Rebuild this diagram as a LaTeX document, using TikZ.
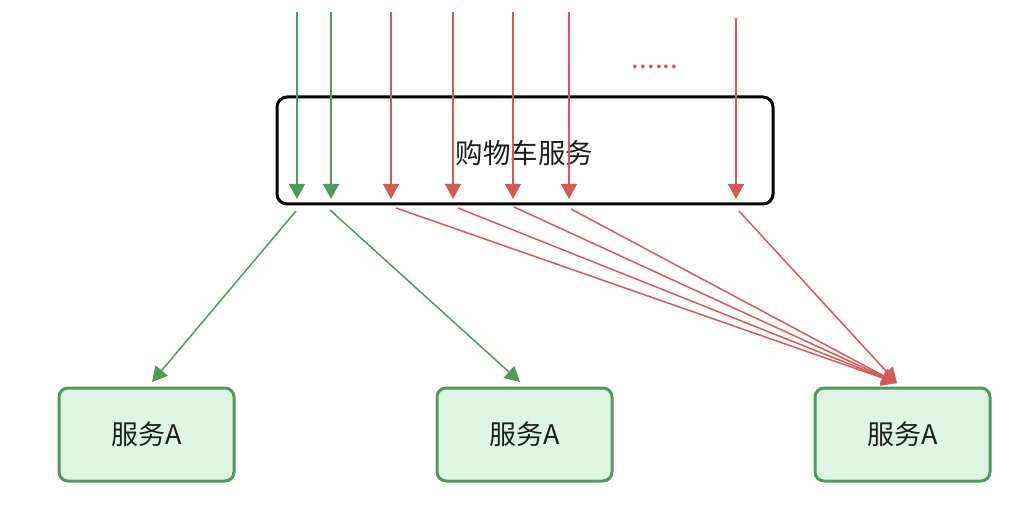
\documentclass[tikz,border=0pt]{standalone}
\usepackage{fontspec}
\setmainfont{Noto Sans CJK SC}
\usetikzlibrary{arrows.meta}
\definecolor{okgreen}{RGB}{80,154,96}
\definecolor{hotred}{RGB}{212,90,88}
\definecolor{svcfill}{RGB}{223,245,228}
\definecolor{inkgray}{RGB}{30,30,30}
\tikzset{
  cartbox/.style={draw=black, line width=3pt, rounded corners=10pt, minimum width=496pt, minimum height=107pt, inner sep=0pt},
  svcbox/.style={draw=okgreen, fill=svcfill, line width=3pt, rounded corners=9pt, minimum width=175pt, minimum height=93pt, inner sep=0pt, text=inkgray, font=\fontsize{27}{30}\selectfont},
  okflow/.style={draw=okgreen, line width=1.5pt, -{Triangle[length=15pt,width=16pt]}},
  hotflow/.style={draw=hotred, line width=1.5pt, -{Triangle[length=15pt,width=16pt]}}
}
\begin{document}
\begin{tikzpicture}[x=1pt,y=-1pt]
\useasboundingbox (0,0) rectangle (1029,508);
\node[cartbox] (cart) at (525,150.5) {};
\node[text=inkgray, font=\fontsize{27.5}{30}\selectfont] (cartlabel) at (524.5,153) {购物车服务};
\node[svcbox] (svc1) at (146.5,434.5) {\raisebox{-3pt}{服务A}};
\node[svcbox] (svc2) at (524.5,434.5) {\raisebox{-3pt}{服务A}};
\node[svcbox] (svc3) at (902.5,434.5) {\raisebox{-3pt}{服务A}};
\node[text=hotred, font=\fontsize{28}{30}\selectfont, inner sep=0pt] (more) at (655,67) {......};
% incoming requests
\coordinate (in1) at (297,12);  \coordinate (hit1) at (297,199);
\coordinate (in2) at (331,12);  \coordinate (hit2) at (331,199);
\coordinate (in3) at (391,12);  \coordinate (hit3) at (391,199);
\coordinate (in4) at (453,12);  \coordinate (hit4) at (453,199);
\coordinate (in5) at (513,12);  \coordinate (hit5) at (513,199);
\coordinate (in6) at (569,12);  \coordinate (hit6) at (569,199);
\coordinate (in7) at (736,18);  \coordinate (hit7) at (736,199);
\draw[okflow] (in1) -- (hit1);
\draw[okflow] (in2) -- (hit2);
\draw[hotflow] (in3) -- (hit3);
\draw[hotflow] (in4) -- (hit4);
\draw[hotflow] (in5) -- (hit5);
\draw[hotflow] (in6) -- (hit6);
\draw[hotflow] (in7) -- (hit7);
% outgoing calls
\coordinate (out1) at (296,211);
\coordinate (out2) at (330,210);
\coordinate (out3) at (396,208);
\coordinate (out4) at (458,208);
\coordinate (out5) at (514,207);
\coordinate (out6) at (571,209);
\coordinate (out7) at (739,211);
\coordinate (tip1) at (152,382);
\coordinate (tip2) at (520,382);
\coordinate (tip3) at (897,383);
\draw[okflow] (out1) -- (tip1);
\draw[okflow] (out2) -- (tip2);
\draw[hotflow] (out3) -- (tip3);
\draw[hotflow] (out4) -- (tip3);
\draw[hotflow] (out5) -- (tip3);
\draw[hotflow] (out6) -- (tip3);
\draw[hotflow] (out7) -- (tip3);
\end{tikzpicture}
\end{document}
